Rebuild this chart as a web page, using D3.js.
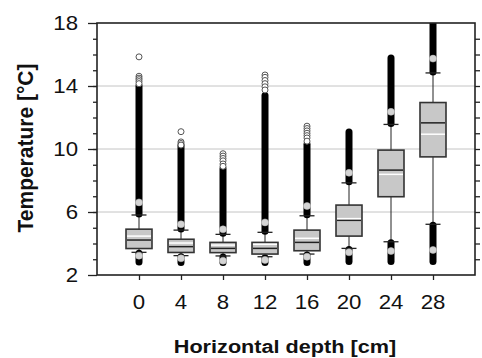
<!DOCTYPE html>
<html><head><meta charset="utf-8">
<script src="https://cdn.jsdelivr.net/npm/d3@7"></script>
<style>body{margin:0;background:#fff;}svg{display:block;}</style>
</head><body>
<svg id="c" width="482" height="358"></svg>
<script>
const depths = [0, 4, 8, 12, 16, 20, 24, 28];
const q1 = [3.68, 3.43, 3.42, 3.33, 3.54, 4.47, 6.97, 9.50];
const q3 = [4.91, 4.27, 4.07, 4.07, 4.85, 6.44, 9.93, 12.95];
const medians = [4.22, 3.80, 3.69, 3.69, 4.07, 5.47, 8.66, 11.66];
const means = [4.47, 4.03, 3.90, 3.95, 4.33, 5.58, 8.39, 10.94];
const whiskerLow = [3.44, 3.23, 3.21, 3.16, 3.33, 3.69, 4.11, 5.22];
const whiskerHigh = [5.81, 4.85, 4.58, 4.71, 5.76, 7.85, 11.56, 14.83];
const p5 = [3.23, 3.06, 2.91, 2.95, 3.16, 3.44, 3.52, 3.59];
const p95 = [6.61, 5.22, 4.90, 5.34, 6.38, 8.49, 12.36, 15.74];
const outlierMin = [2.82, 2.80, 2.80, 2.80, 2.80, 2.85, 2.85, 2.85];
const outlierBandMax = [14.0, 10.2, 8.75, 13.4, 10.3, 11.08, 15.77, 18.3];
const outlierPoints = [
  [15.85, 14.62, 14.5, 14.4, 14.28, 14.15],
  [11.1, 10.45, 10.35, 10.25],
  [9.7, 9.55, 9.4, 9.25, 9.05, 8.9],
  [14.7, 14.55, 14.35, 14.15, 13.95, 13.75],
  [11.45, 11.3, 11.15, 11.0, 10.85, 10.7, 10.5],
  [], [], []
];
const yTicks = [2, 6, 10, 14, 18];
const gridValues = [6, 10, 14];

const W = 482, H = 358;
const m = {left: 97, right: 7, top: 23, bottom: 83};
const svg = d3.select("#c");
const x = d3.scaleLinear().domain([-4, 32]).range([m.left, W - m.right]);
const y = d3.scaleLinear().domain([2, 18]).range([H - m.bottom, m.top]);
const font = "'Liberation Sans', Arial, sans-serif";
const sx = 1.14;

svg.append("defs").append("clipPath").attr("id", "clip")
  .append("rect").attr("x", m.left).attr("y", m.top)
  .attr("width", W - m.left - m.right).attr("height", H - m.top - m.bottom);

// grid
svg.append("g").selectAll("line").data(gridValues).join("line")
  .attr("x1", m.left).attr("x2", W - m.right)
  .attr("y1", d => y(d)).attr("y2", d => y(d))
  .attr("stroke", "#c4c4c4").attr("stroke-width", 1);

const data = depths.map((d, i) => ({d, i}));
const bw = 26, cw = 15;
const g = svg.append("g").attr("clip-path", "url(#clip)");

// whiskers
g.selectAll(".wl").data(data).join("line")
  .attr("x1", e => x(e.d)).attr("x2", e => x(e.d))
  .attr("y1", e => y(whiskerLow[e.i])).attr("y2", e => y(whiskerHigh[e.i]))
  .attr("stroke", "#222").attr("stroke-width", 1);
// outlier bands
g.selectAll(".bl").data(data).join("line")
  .attr("x1", e => x(e.d)).attr("x2", e => x(e.d))
  .attr("y1", e => y(outlierMin[e.i])).attr("y2", e => y(whiskerLow[e.i]) + 1)
  .attr("stroke", "#000").attr("stroke-width", 7).attr("stroke-linecap", "round");
g.selectAll(".bh").data(data).join("line")
  .attr("x1", e => x(e.d)).attr("x2", e => x(e.d))
  .attr("y1", e => y(whiskerHigh[e.i]) - 1).attr("y2", e => y(outlierBandMax[e.i]))
  .attr("stroke", "#000").attr("stroke-width", 7).attr("stroke-linecap", "round");
// caps
[whiskerLow, whiskerHigh].forEach(arr => {
  g.selectAll(null).data(data).join("line")
    .attr("x1", e => x(e.d) - cw / 2).attr("x2", e => x(e.d) + cw / 2)
    .attr("y1", e => y(arr[e.i])).attr("y2", e => y(arr[e.i]))
    .attr("stroke", "#222").attr("stroke-width", 1.3);
});
// sparse outliers
data.forEach(e => {
  g.selectAll(null).data(outlierPoints[e.i]).join("circle")
    .attr("cx", x(e.d)).attr("cy", v => y(v)).attr("r", 3)
    .attr("fill", "#fff").attr("stroke", "#555").attr("stroke-width", 1);
});
// percentile dots
[p5, p95].forEach(arr => {
  g.selectAll(null).data(data).join("circle")
    .attr("cx", e => x(e.d)).attr("cy", e => y(arr[e.i])).attr("r", 3.5)
    .attr("fill", "#d4d4d4").attr("stroke", "#bbb").attr("stroke-width", 0.5);
});
// boxes
g.selectAll(".box").data(data).join("rect")
  .attr("x", e => x(e.d) - bw / 2).attr("width", bw)
  .attr("y", e => y(q3[e.i])).attr("height", e => y(q1[e.i]) - y(q3[e.i]))
  .attr("fill", "#c8c8c8").attr("stroke", "#333").attr("stroke-width", 1.6);
g.selectAll(".med").data(data).join("line")
  .attr("x1", e => x(e.d) - bw / 2 + 1).attr("x2", e => x(e.d) + bw / 2 - 1)
  .attr("y1", e => y(medians[e.i])).attr("y2", e => y(medians[e.i]))
  .attr("stroke", "#222").attr("stroke-width", 1.5);
g.selectAll(".mean").data(data).join("line")
  .attr("x1", e => x(e.d) - bw / 2 + 1).attr("x2", e => x(e.d) + bw / 2 - 1)
  .attr("y1", e => y(means[e.i])).attr("y2", e => y(means[e.i]))
  .attr("stroke", "#fff").attr("stroke-width", 1.5);

// axes (ticks only; labels drawn separately with horizontal stretch)
const axStroke = "#222";
const yL = svg.append("g").attr("transform", `translate(${m.left},0)`)
  .call(d3.axisLeft(y).tickValues(yTicks).tickSize(9).tickFormat(""));
const yLm = svg.append("g").attr("transform", `translate(${m.left},0)`)
  .call(d3.axisLeft(y).tickValues(d3.range(3, 18)).tickSize(4).tickFormat(""));
const yR = svg.append("g").attr("transform", `translate(${W - m.right},0)`)
  .call(d3.axisRight(y).tickValues(d3.range(3, 18)).tickSize(5).tickFormat(""));
const xB = svg.append("g").attr("transform", `translate(0,${H - m.bottom})`)
  .call(d3.axisBottom(x).tickValues(depths).tickSize(5).tickFormat(""));
[yL, yLm, yR, xB].forEach(a => {
  a.select(".domain").remove();
  a.selectAll("line").attr("stroke", axStroke).attr("stroke-width", 1.3);
});
svg.append("g").selectAll("text").data(yTicks).join("text")
  .attr("transform", d => `translate(78,${y(d) + 7}) scale(${sx},1)`)
  .attr("text-anchor", "end").attr("font-family", font).attr("font-size", 19.5)
  .attr("fill", "#111").text(d => d);
svg.append("g").selectAll("text").data(depths).join("text")
  .attr("transform", d => `translate(${x(d)},309) scale(${sx},1)`)
  .attr("text-anchor", "middle").attr("font-family", font).attr("font-size", 19.5)
  .attr("fill", "#111").text(d => d);

// frame
svg.append("rect").attr("x", m.left).attr("y", m.top)
  .attr("width", W - m.left - m.right).attr("height", H - m.top - m.bottom)
  .attr("fill", "none").attr("stroke", axStroke).attr("stroke-width", 1.6);

// titles
svg.append("text").attr("transform", `translate(33,148) scale(1.04,1) rotate(-90)`)
  .attr("text-anchor", "middle").attr("font-family", font).attr("font-weight", "bold")
  .attr("font-size", 21).attr("fill", "#111").text("Temperature [°C]");
svg.append("text").attr("transform", `translate(285,352.5) scale(${sx},1)`)
  .attr("text-anchor", "middle").attr("font-family", font).attr("font-weight", "bold")
  .attr("font-size", 19).attr("fill", "#111").text("Horizontal depth [cm]");
</script>
</body></html>
